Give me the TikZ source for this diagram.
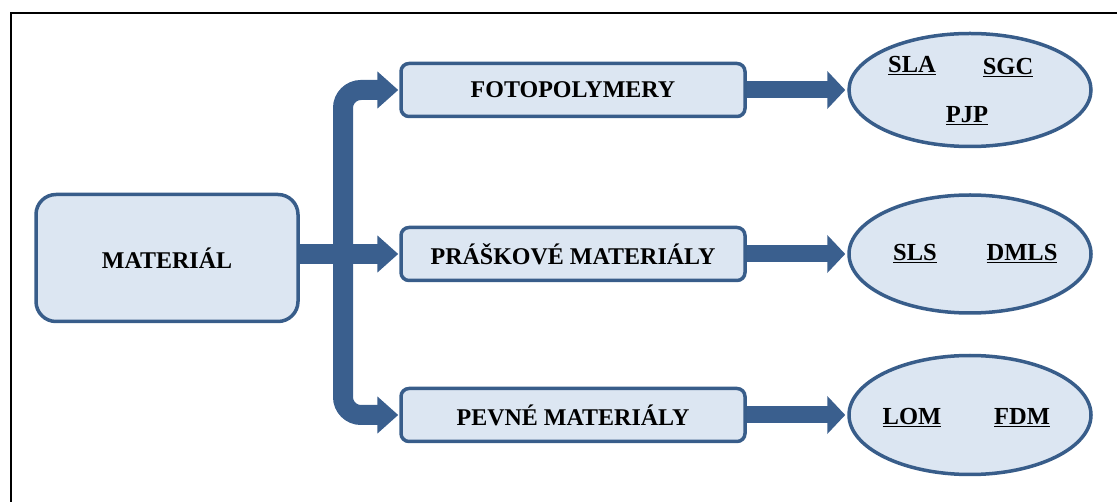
\documentclass[tikz,border=0pt]{standalone}
\usepackage{fontspec}
\setmainfont{Liberation Serif}
\usetikzlibrary{arrows.meta,shapes.geometric}
\definecolor{boxfill}{HTML}{DCE6F2}
\definecolor{boxline}{HTML}{385D8A}
\definecolor{arrowcol}{HTML}{3A5F8E}
\begin{document}
\begin{tikzpicture}[x=1pt,y=-1pt,
  lbl/.style={font=\fontsize{24}{28}\selectfont\bfseries, text=black},
  ulbl/.style={font=\fontsize{24.5}{28}\selectfont\bfseries, text=black, inner sep=0pt},
  catbox/.style={draw=boxline, line width=3.5pt, fill=boxfill, rounded corners=8pt,
    minimum width=344pt, minimum height=53pt, inner sep=0pt},
  oval/.style={ellipse, draw=boxline, line width=3.5pt, fill=boxfill, inner sep=0pt},
  trunk/.style={draw=arrowcol, line width=20pt, -{Triangle[length=21pt,width=36pt]}},
  sarrow/.style={draw=arrowcol, line width=17pt, -{Triangle[length=18pt,width=37pt]}}
]
\useasboundingbox (0,0) rectangle (1117,502);
% frame
\draw[line width=2pt, black] (11,502) -- (11,13) -- (1117,13);

% nodes
\node[draw=boxline, line width=3.5pt, fill=boxfill, rounded corners=20pt,
  minimum width=262pt, minimum height=127pt, inner sep=0pt, lbl] (mat) at (167,258) {MATERIÁL};
\node[catbox, lbl] (fp) at (573,90) {FOTOPOLYMERY};
\node[catbox, lbl] (pm) at (573,254) {PRÁŠKOVÉ MATERIÁLY};
\node[catbox, lbl] (pv) at (573,415) {PEVNÉ MATERIÁLY};

\node[oval, minimum width=242pt, minimum height=113pt] (e1) at (970,90) {};
\node[oval, minimum width=242pt, minimum height=118pt] (e2) at (970,254) {};
\node[oval, minimum width=242pt, minimum height=119pt] (e3) at (970,415) {};

\node[ulbl] (sla) at (912,66) {\underline{SLA}};
\node[ulbl] (sgc) at (1008,68) {\underline{SGC}};
\node[ulbl] (pjp) at (967,116) {\underline{PJP}};
\node[ulbl] (sls) at (915,254) {\underline{SLS}};
\node[ulbl] (dmls) at (1022,254) {\underline{DMLS}};
\node[ulbl] (lom) at (912,418) {\underline{LOM}};
\node[ulbl] (fdm) at (1022,418) {\underline{FDM}};

% connectors
\coordinate (jn) at (343,254);
\draw[trunk, rounded corners=18pt] (jn) |- ([xshift=-1pt]fp.west);
\draw[trunk, rounded corners=18pt] (jn) |- ([xshift=-1pt]pv.west);
\draw[trunk] (mat.east |- pm.west) -- ([xshift=-1pt]pm.west);

\draw[sarrow] (fp.east) -- ([xshift=-2pt]e1.west |- fp.east);
\draw[sarrow] (pm.east) -- ([xshift=-2pt]e2.west |- pm.east);
\draw[sarrow] (pv.east) -- ([xshift=-2pt]e3.west |- pv.east);
\end{tikzpicture}
\end{document}
